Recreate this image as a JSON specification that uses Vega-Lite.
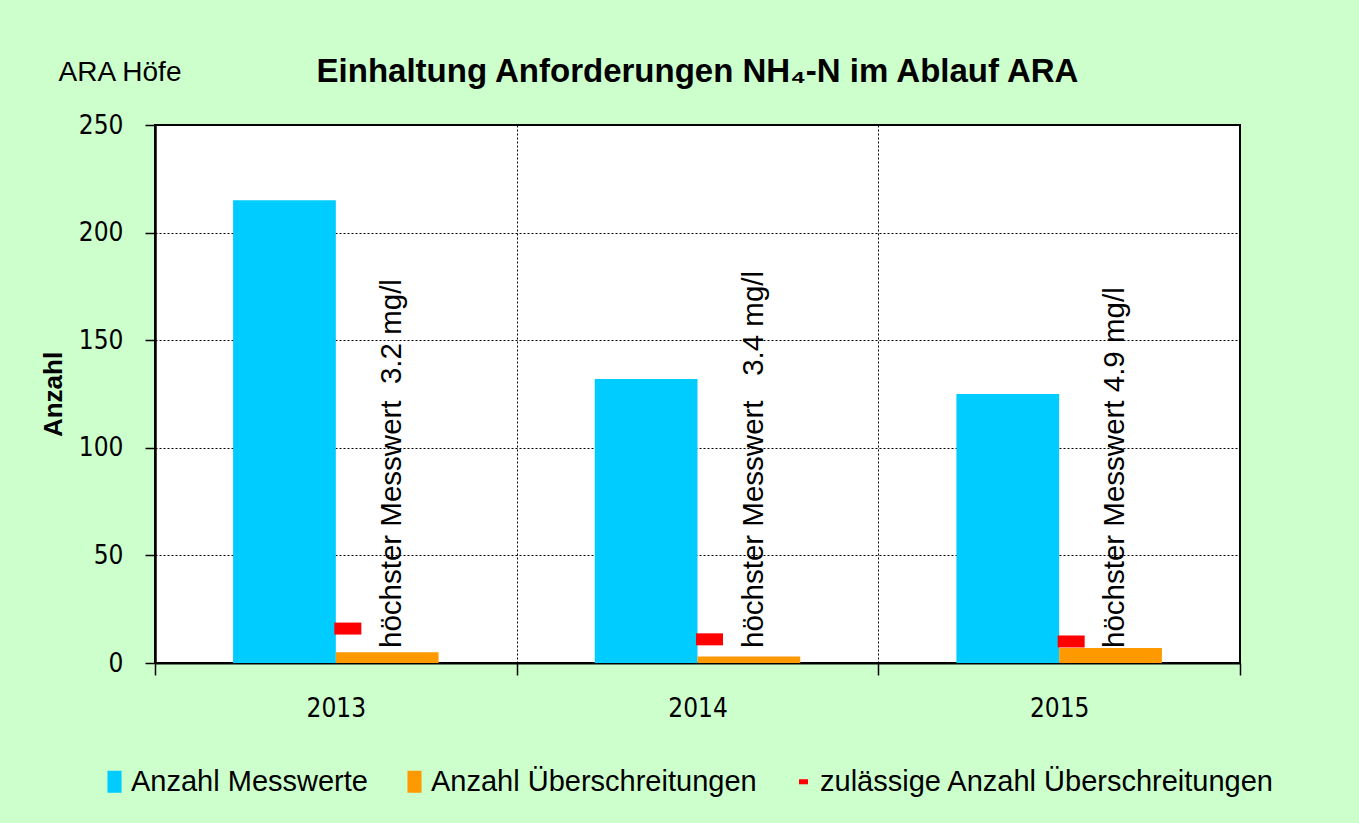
{
  "$schema": "https://vega.github.io/schema/vega-lite/v6.json",
  "width": 1085,
  "height": 538,
  "autosize": {"type": "none"},
  "padding": {"left": 155, "top": 125, "right": 119, "bottom": 160},
  "background": "#CCFFCC",
  "config": {
    "view": {"fill": "white", "stroke": "black", "strokeWidth": 2},
    "font": "Liberation Sans"
  },
  "title": {
    "text": "Einhaltung Anforderungen NH₄-N im Ablauf ARA",
    "font": "Liberation Sans",
    "fontSize": 33,
    "fontWeight": "bold",
    "color": "black",
    "anchor": "middle",
    "baseline": "alphabetic",
    "offset": -57
  },
  "datasets": {
    "bars": [
      {"Jahr": "2013", "Serie": "Anzahl Messwerte", "Anzahl": 215},
      {"Jahr": "2013", "Serie": "Anzahl Überschreitungen", "Anzahl": 5},
      {"Jahr": "2014", "Serie": "Anzahl Messwerte", "Anzahl": 132},
      {"Jahr": "2014", "Serie": "Anzahl Überschreitungen", "Anzahl": 3},
      {"Jahr": "2015", "Serie": "Anzahl Messwerte", "Anzahl": 125},
      {"Jahr": "2015", "Serie": "Anzahl Überschreitungen", "Anzahl": 7}
    ],
    "limit": [
      {"Jahr": "2013", "Serie": "zulässige Anzahl Überschreitungen", "Anzahl": 16},
      {"Jahr": "2014", "Serie": "zulässige Anzahl Überschreitungen", "Anzahl": 11},
      {"Jahr": "2015", "Serie": "zulässige Anzahl Überschreitungen", "Anzahl": 10}
    ],
    "labels": [
      {"Jahr": "2013", "Text": "höchster Messwert\u00a0 3.2 mg/l"},
      {"Jahr": "2014", "Text": "höchster Messwert\u00a0\u00a0 3.4 mg/l"},
      {"Jahr": "2015", "Text": "höchster Messwert 4.9 mg/l"}
    ]
  },
  "layer": [
    {
      "data": {"name": "bars"},
      "mark": {"type": "bar"},
      "encoding": {
        "x": {
          "field": "Jahr",
          "type": "nominal",
          "scale": {"paddingInner": 0, "paddingOuter": 0},
          "axis": {
            "orient": "bottom",
            "title": null,
            "labelAngle": 0,
            "labelFont": "DejaVu Sans Condensed, DejaVu Sans",
            "labelFontSize": 26,
            "labelColor": "black",
            "labelPadding": 20,
            "tickBand": "extent",
            "tickSize": 12,
            "tickColor": "black",
            "tickWidth": 1.5,
            "domainColor": "black",
            "domainWidth": 2,
            "grid": true,
            "gridColor": "black",
            "gridDash": [2, 2],
            "gridWidth": 1
          }
        },
        "xOffset": {
          "field": "Serie",
          "type": "nominal",
          "scale": {"domain": ["Anzahl Messwerte", "Anzahl Überschreitungen"], "paddingInner": 0, "paddingOuter": 0.76}
        },
        "y": {
          "field": "Anzahl",
          "type": "quantitative",
          "scale": {"domain": [0, 250], "nice": false},
          "axis": {
            "title": "Anzahl",
            "titleFont": "Liberation Sans",
            "titleFontSize": 26,
            "titleFontWeight": "bold",
            "titleColor": "black",
            "titlePadding": 12,
            "values": [0, 50, 100, 150, 200, 250],
            "labelFont": "DejaVu Sans Condensed, DejaVu Sans",
            "labelFontSize": 26,
            "labelColor": "black",
            "labelPadding": 22,
            "tickSize": 10,
            "tickColor": "black",
            "tickWidth": 1.5,
            "domainColor": "black",
            "domainWidth": 2.5,
            "grid": true,
            "gridColor": "black",
            "gridDash": [2, 2],
            "gridWidth": 1
          }
        },
        "color": {
          "field": "Serie",
          "type": "nominal",
          "scale": {
            "domain": ["Anzahl Messwerte", "Anzahl Überschreitungen", "zulässige Anzahl Überschreitungen"],
            "range": ["#00CCFF", "#FF9900", "#FF0000"]
          },
          "legend": {
            "orient": "none",
            "legendX": -55,
            "legendY": 642,
            "direction": "horizontal",
            "title": null,
            "labelFont": "Liberation Sans",
            "labelFontSize": 29,
            "labelColor": "black",
            "labelLimit": 600,
            "labelOffset": 2,
            "columnPadding": 32,
            "symbolSize": 484,
            "symbolStrokeWidth": 0,
            "symbolOpacity": 1,
            "padding": 0,
            "encode": {
              "symbols": {
                "update": {
                  "shape": [
                    {"test": "datum.value === 'zulässige Anzahl Überschreitungen'", "value": "M-0.41,-0.23H0.41V0.23H-0.41Z"},
                    {"value": "M-0.64,-1H0.64V1H-0.64Z"}
                  ],
                  "fill": {"scale": "color", "field": "value"},
                  "opacity": {"value": 1}
                }
              }
            }
          }
        }
      }
    },
    {
      "data": {"name": "limit"},
      "mark": {"type": "tick", "orient": "horizontal", "thickness": 12, "size": 27, "xOffset": 12, "opacity": 1},
      "encoding": {
        "x": {"field": "Jahr", "type": "nominal", "axis": null},
        "y": {"field": "Anzahl", "type": "quantitative"},
        "color": {"field": "Serie", "type": "nominal"}
      }
    },
    {
      "data": {"name": "labels"},
      "mark": {
        "type": "text",
        "angle": 270,
        "align": "left",
        "baseline": "alphabetic",
        "font": "Liberation Sans",
        "fontSize": 29.5,
        "color": "black",
        "xOffset": 65,
        "yOffset": -15
      },
      "encoding": {
        "x": {
          "field": "Jahr",
          "type": "nominal",
          "axis": {
            "orient": "top",
            "title": "ARA Höfe",
            "titleFont": "Liberation Sans",
            "titleFontSize": 28,
            "titleFontWeight": "normal",
            "titleColor": "black",
            "titleAngle": 0,
            "titleAlign": "left",
            "titleBaseline": "alphabetic",
            "titleAnchor": "start",
            "titleX": -97,
            "titleY": -45,
            "labels": false,
            "ticks": false,
            "domain": false,
            "grid": false
          }
        },
        "y": {"datum": 0},
        "text": {"field": "Text"}
      }
    }
  ],
  "resolve": {"axis": {"x": "independent"}}
}
